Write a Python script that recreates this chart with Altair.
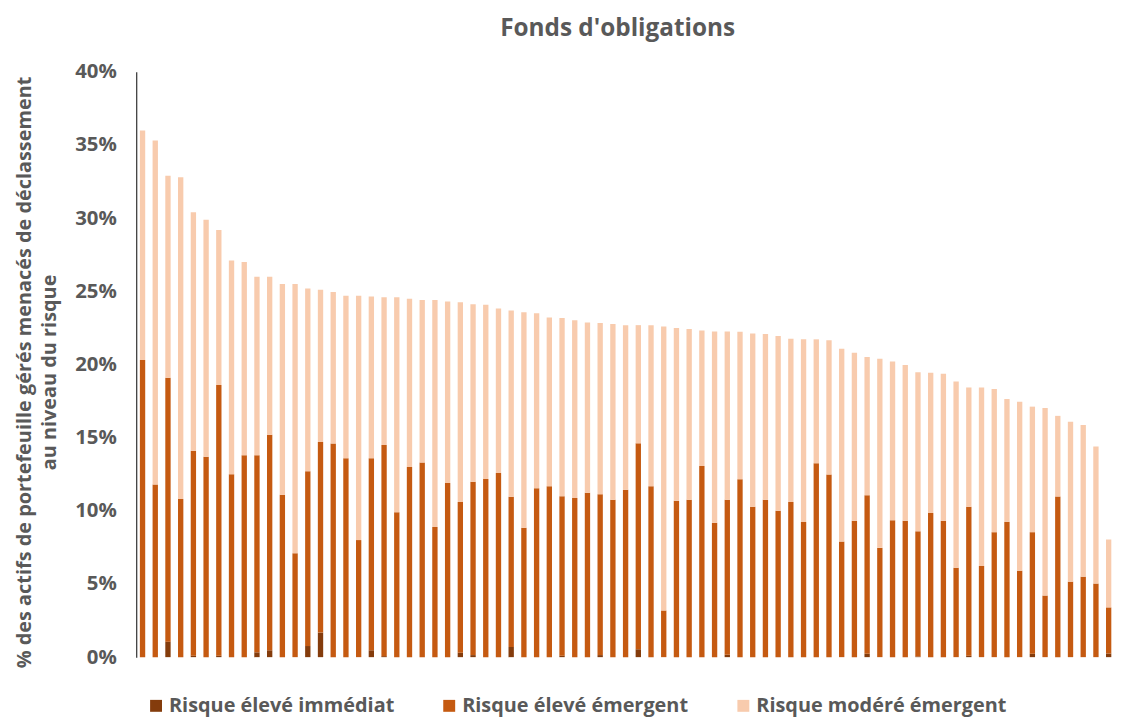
import altair as alt
import pandas as pd

fonds = list(range(1, 78))

risque_eleve_immediat = [
    0, 0, 1.06, 0, 0.1, 0, 0.1, 0, 0, 0.33,
    0.47, 0, 0, 0.76, 1.68, 0, 0, 0, 0.47, 0.07,
    0, 0, 0, 0, 0, 0.3, 0.14, 0, 0, 0.70,
    0, 0, 0, 0.1, 0, 0, 0.14, 0, 0, 0.54,
    0, 0, 0, 0, 0, 0, 0.16, 0, 0, 0,
    0, 0, 0, 0, 0, 0, 0, 0.23, 0, 0,
    0, 0.05, 0, 0, 0, 0.1, 0, 0, 0, 0,
    0.23, 0, 0, 0, 0, 0, 0.25,
]

risque_eleve_emergent = [
    20.3, 11.8, 18.04, 10.8, 14.0, 13.7, 18.5, 12.5, 13.8, 13.47,
    14.73, 11.1, 7.1, 11.94, 13.02, 14.6, 13.6, 8.0, 13.13, 14.43,
    9.9, 13.0, 13.3, 8.9, 11.9, 10.3, 11.84, 12.18, 12.59, 10.26,
    8.85, 11.55, 11.68, 10.9, 10.87, 11.23, 11.0, 10.76, 11.44, 14.07,
    11.68, 3.19, 10.69, 10.76, 13.06, 9.19, 10.6, 12.16, 10.28, 10.76,
    10.01, 10.6, 9.24, 13.25, 12.48, 7.9, 9.33, 10.84, 7.47, 9.35,
    9.33, 8.55, 9.85, 9.33, 6.11, 10.18, 6.23, 8.54, 9.26, 5.91,
    8.31, 4.21, 10.98, 5.16, 5.5, 5.03, 3.15,
]

risque_modere_emergent = [
    15.7, 23.5, 13.8, 22.0, 16.3, 16.2, 10.6, 14.6, 13.2, 12.2,
    10.8, 14.4, 18.4, 12.5, 10.4, 10.35, 11.1, 16.7, 11.05, 10.1,
    14.7, 11.5, 11.1, 15.5, 12.4, 13.65, 12.14, 11.9, 11.23, 12.73,
    14.72, 11.95, 11.53, 12.17, 12.16, 11.64, 11.69, 12.0, 11.25, 8.08,
    11.01, 19.41, 11.8, 11.66, 9.27, 13.07, 11.5, 10.08, 11.84, 11.32,
    11.93, 11.16, 12.48, 8.47, 9.17, 13.18, 11.48, 9.45, 12.93, 10.85,
    10.64, 10.87, 9.58, 10.03, 12.73, 8.15, 12.2, 9.78, 8.38, 11.55,
    8.58, 12.82, 5.51, 10.92, 10.37, 9.37, 4.64,
]

series_names = ["Risque élevé immédiat", "Risque élevé émergent", "Risque modéré émergent"]
series_colors = ["#843C0C", "#C55A11", "#F8CBAD"]
y_ticks = [0, 0.05, 0.10, 0.15, 0.20, 0.25, 0.30, 0.35, 0.40]

rows = []
for k, (name, vals) in enumerate(zip(series_names,
                                     [risque_eleve_immediat, risque_eleve_emergent, risque_modere_emergent])):
    for f, v in zip(fonds, vals):
        rows.append({"fonds": f, "serie": name, "ordre": k, "valeur": v / 100})
df = pd.DataFrame(rows)

FONT = "Open Sans"
GREY = "#595959"

chart = alt.Chart(df).mark_bar().encode(
    x=alt.X("fonds:O", axis=None,
            scale=alt.Scale(paddingInner=0.58, paddingOuter=0.29)),
    y=alt.Y("valeur:Q", stack="zero",
            scale=alt.Scale(domain=[0, 0.4], nice=False),
            axis=alt.Axis(values=y_ticks, format=".0%", grid=False, ticks=False,
                          domainColor="#404040", domainWidth=1.3,
                          labelFont=FONT, labelFontSize=20.5, labelFontWeight="bold",
                          labelColor=GREY, labelPadding=20,
                          title=["% des actifs de portefeuille gérés menacés de déclassement",
                                 "au niveau du risque"],
                          titleFont=FONT, titleFontSize=20, titleFontWeight="bold",
                          titleColor=GREY, titleLineHeight=25,
                          titleAngle=270, titleAlign="center", titleBaseline="alphabetic",
                          titleX=-106, titleY=302)),
    color=alt.Color("serie:N",
                    scale=alt.Scale(domain=series_names, range=series_colors),
                    legend=alt.Legend(title=None, orient="none", direction="horizontal",
                                      legendX=10, legendY=628,
                                      symbolType="square", symbolSize=144,
                                      symbolStrokeWidth=0, symbolOpacity=1,
                                      labelFont=FONT, labelFontSize=20,
                                      labelFontWeight="bold", labelColor=GREY,
                                      labelOffset=3, columnPadding=45,
                                      labelLimit=400)),
    order=alt.Order("ordre:Q", sort="ascending"),
).properties(
    width=985,
    height=589,
    autosize=alt.AutoSizeParams(type="none"),
    padding={"left": 129, "top": 62, "right": 0, "bottom": 62},
    title=alt.TitleParams("Fonds d'obligations", font=FONT, fontSize=24.5,
                          fontWeight="bold", color=GREY, anchor="middle",
                          frame="group", dx=-8, offset=21),
).configure_view(stroke=None)

chart.save("out.html", embed_options={"renderer": "svg", "actions": False})
